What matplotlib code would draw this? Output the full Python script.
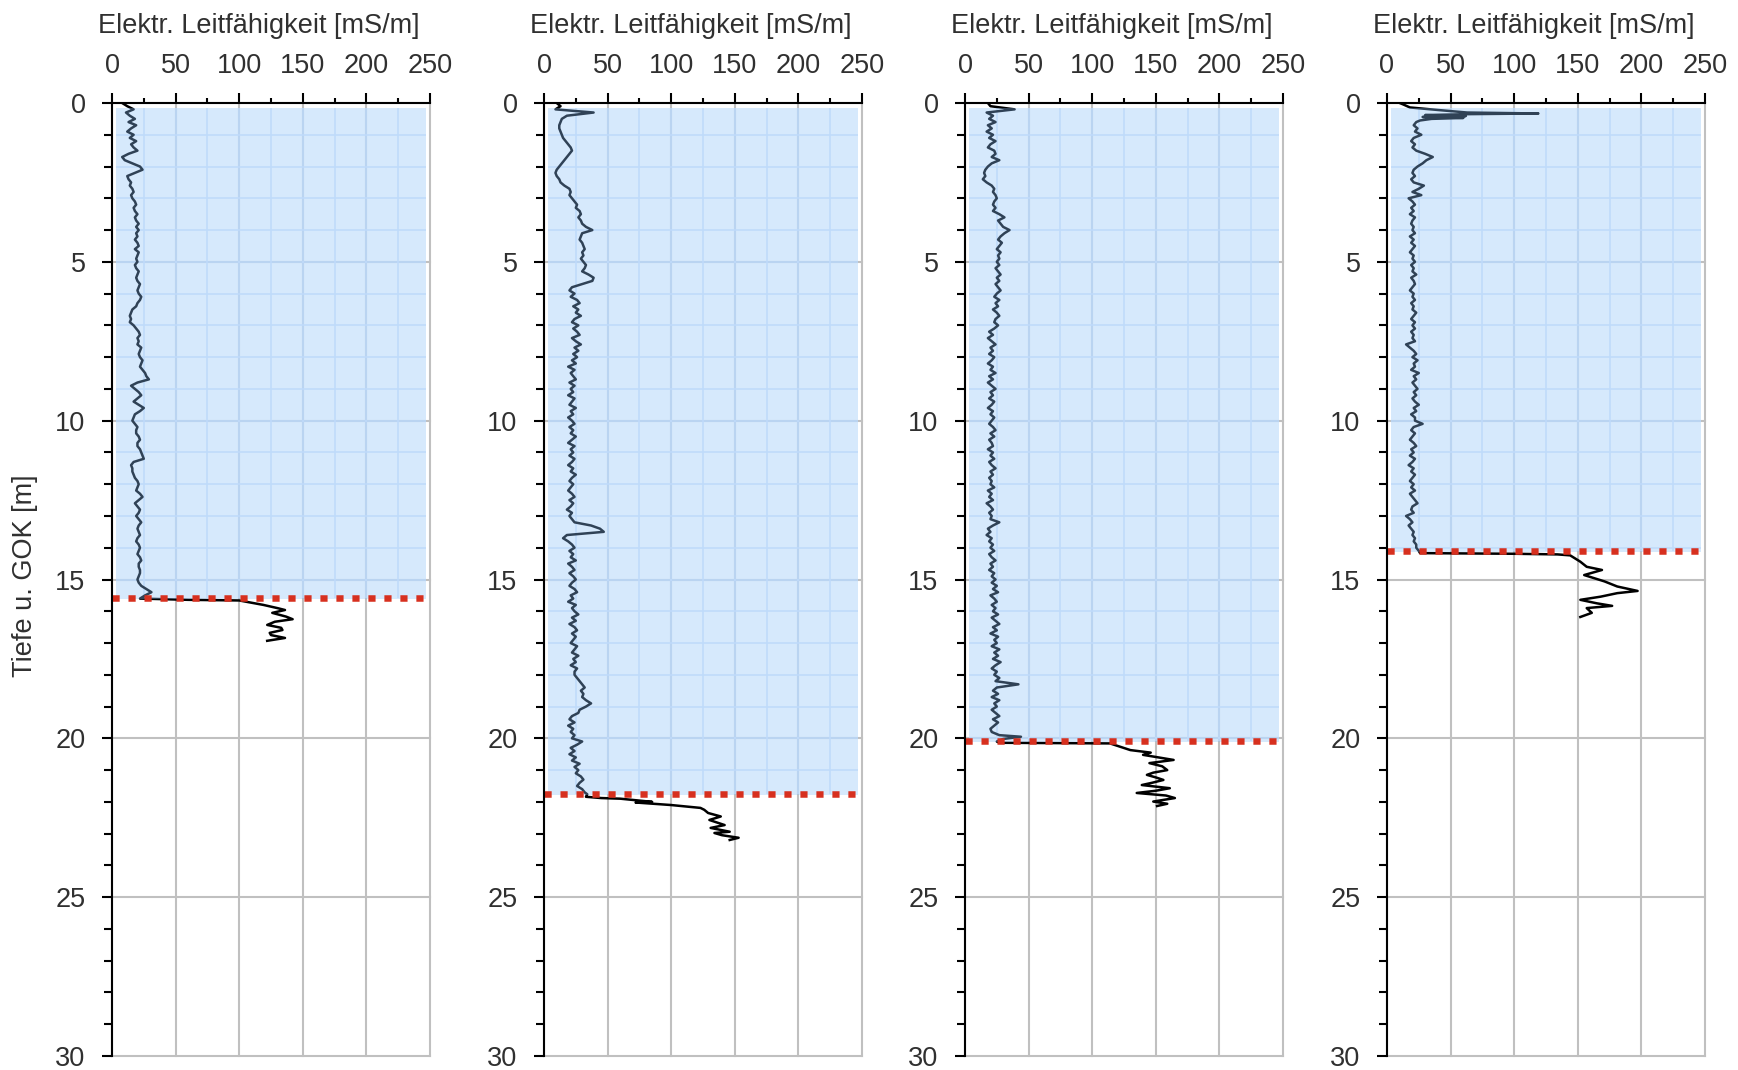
import numpy as np
import matplotlib
matplotlib.use("Agg")
import matplotlib.pyplot as plt
from matplotlib.ticker import MultipleLocator

plt.rcParams['font.family'] = ['Liberation Sans', 'DejaVu Sans']

# ---------------- data ----------------
X_LABEL = "Elektr. Leitfähigkeit [mS/m]"
Y_LABEL = "Tiefe u. GOK [m]"
X_TICKS = [0, 50, 100, 150, 200, 250]
Y_TICKS = [0, 5, 10, 15, 20, 25, 30]

# depth (m) of the water table (red dotted line, lower limit of blue zone)
WATER_LEVEL = [15.57, 21.76, 20.08, 14.10]

STEP = 0.1  # sampling step of the regularly sampled log parts (m)

# --- Profile 1 ---
P1_HEAD_DEPTH = []
P1_HEAD_VALUE = []
P1_BODY_START = 0.0
P1_BODY = [
    8, 12, 17, 11, 14, 18, 13, 19, 15, 12,
    17, 14, 19, 15, 17, 20, 13, 8, 10, 16,
    22, 24, 18, 12, 13, 15, 14, 16, 17, 15,
    16, 18, 19, 17, 18, 20, 18, 19, 21, 19,
    21, 19, 20, 18, 20, 21, 18, 21, 20, 19,
    20, 18, 19, 21, 20, 19, 20, 22, 21, 20,
    21, 23, 22, 20, 19, 16, 15, 14, 15, 14,
    17, 19, 21, 22, 20, 21, 20, 23, 22, 21,
    22, 24, 23, 22, 24, 26, 27, 29, 20, 15,
    18, 21, 23, 20, 17, 21, 25, 22, 18, 17,
    16, 18, 20, 19, 19, 21, 22, 20, 20, 22,
    23, 24, 25, 17, 15, 16, 16, 17, 18, 20,
    21, 20, 19, 22, 24, 21, 18, 20, 22, 21,
    19, 21, 23, 21, 20, 21, 22, 20, 19, 21,
    22, 21, 20, 22, 23, 21, 21, 22, 22, 21,
    20, 21, 23, 27, 31, 26, 22,
]
P1_TAIL_DEPTH = [15.64, 15.66, 15.8, 15.9, 15.96, 16.05, 16.17, 16.25, 16.33,
                 16.43, 16.52, 16.59, 16.68, 16.75, 16.84, 16.93]
P1_TAIL_VALUE = [60, 100, 119, 130, 136, 126, 137, 142, 128,
                 122, 133, 134, 124, 125, 136, 122]

# --- Profile 2 ---
P2_HEAD_DEPTH = []
P2_HEAD_VALUE = []
P2_BODY_START = 0.0
P2_BODY = [
    10, 13, 9, 39, 18, 14, 13, 12, 12, 13,
    14, 15, 17, 19, 21, 22, 20, 18, 16, 14,
    12, 10, 9, 10, 12, 13, 16, 20, 21, 20,
    22, 24, 26, 25, 28, 29, 27, 29, 30, 33,
    38, 30, 29, 28, 30, 31, 32, 30, 31, 29,
    31, 33, 32, 30, 35, 39, 38, 30, 22, 20,
    24, 21, 26, 28, 23, 27, 25, 29, 24, 22,
    27, 23, 26, 28, 22, 25, 29, 24, 27, 23,
    26, 22, 25, 19, 24, 21, 23, 25, 20, 24,
    21, 23, 19, 24, 22, 20, 25, 21, 23, 19,
    22, 24, 20, 23, 21, 25, 22, 19, 24, 21,
    23, 20, 24, 22, 19, 23, 21, 25, 22, 20,
    23, 21, 19, 22, 24, 20, 23, 21, 18, 22,
    20, 22, 24, 37, 44, 47, 18, 15, 19, 22,
    24, 20, 23, 21, 25, 19, 22, 24, 20, 23,
    25, 22, 20, 24, 26, 21, 23, 19, 25, 22,
    24, 27, 22, 25, 20, 24, 26, 22, 25, 23,
    21, 26, 24, 22, 27, 23, 25, 21, 26, 24,
    24, 26, 28, 30, 32, 29, 31, 30, 33, 37,
    33, 28, 27, 22, 20, 24, 19, 23, 21, 24,
    22, 30, 26, 21, 24, 20, 25, 22, 28, 24,
    27, 25, 29, 31, 28, 26, 30, 32,
]
P2_TAIL_DEPTH = [21.76, 21.84, 21.88, 21.9, 22.0, 22.02, 22.1, 22.19, 22.25, 22.35,
                 22.46, 22.57, 22.65, 22.73, 22.82, 22.94, 22.98, 23.05, 23.13, 23.2]
P2_TAIL_VALUE = [34, 33, 45, 60, 85, 72, 100, 123, 126, 129,
                 139, 130, 136, 142, 131, 146, 134, 140, 153, 146]

# --- Profile 3 ---
P3_HEAD_DEPTH = []
P3_HEAD_VALUE = []
P3_BODY_START = 0.0
P3_BODY = [
    18, 20, 39, 17, 22, 19, 24, 18, 21, 17,
    22, 19, 24, 20, 18, 23, 24, 21, 27, 21,
    18, 16, 15, 16, 14, 17, 21, 23, 22, 24,
    25, 23, 22, 24, 22, 27, 31, 26, 28, 30,
    35, 31, 28, 26, 29, 27, 25, 28, 26, 27,
    25, 27, 24, 26, 28, 25, 27, 24, 26, 28,
    25, 23, 27, 24, 26, 22, 25, 27, 24, 23,
    26, 23, 19, 22, 18, 21, 24, 20, 22, 19,
    23, 21, 18, 22, 20, 24, 19, 22, 18, 21,
    24, 20, 22, 19, 23, 21, 18, 22, 20, 23,
    21, 19, 22, 24, 20, 23, 19, 21, 22, 18,
    22, 20, 23, 19, 21, 24, 20, 22, 19, 21,
    20, 23, 18, 21, 19, 22, 17, 20, 22, 19,
    21, 20, 27, 22, 18, 20, 17, 21, 19, 22,
    20, 23, 19, 21, 24, 20, 22, 19, 23, 21,
    24, 21, 25, 22, 26, 20, 23, 25, 21, 24,
    22, 26, 21, 24, 27, 22, 25, 20, 26, 23,
    25, 21, 27, 23, 26, 22, 28, 24, 21, 25,
    23, 27, 24, 42, 25, 22, 26, 21, 27, 23,
    25, 21, 24, 27, 22, 26, 23, 20, 21, 27,
]
P3_TAIL_DEPTH = [19.95, 20.02, 20.1, 20.14, 20.16, 20.37, 20.45, 20.52, 20.6, 20.68,
                 20.78, 20.88, 21.0, 21.08, 21.15, 21.23, 21.31, 21.4, 21.47, 21.57,
                 21.65, 21.72, 21.8, 21.88, 21.99, 22.06, 22.13]
P3_TAIL_VALUE = [44, 30, 25, 27, 114, 130, 146, 140, 152, 164,
                 145, 155, 159, 148, 143, 150, 156, 147, 139, 161,
                 150, 135, 158, 165, 148, 159, 151]

# --- Profile 4 ---
P4_HEAD_DEPTH = [0.0, 0.05, 0.14, 0.22, 0.3, 0.33, 0.35, 0.38, 0.41, 0.44, 0.47, 0.5, 0.55, 0.6]
P4_HEAD_VALUE = [10, 13, 18, 40, 63, 119, 66, 30, 62, 28, 60, 35, 26, 23]
P4_BODY_START = 0.7
P4_BODY = [
    21, 24, 22,
    27, 21, 19, 22, 20, 23, 30, 36, 31, 28,
    24, 21, 20, 22, 19, 21, 29, 25, 20, 27,
    17, 20, 22, 19, 21, 18, 22, 20, 19, 21,
    20, 22, 18, 21, 19, 22, 20, 18, 21, 20,
    22, 19, 21, 20, 23, 19, 21, 22, 20, 18,
    21, 20, 22, 19, 21, 20, 23, 21, 19, 22,
    20, 22, 19, 21, 20, 22, 15, 18, 21, 23,
    20, 24, 21, 22, 19, 25, 21, 23, 20, 22,
    24, 21, 23, 20, 22, 25, 21, 23, 19, 22,
    22, 28, 21, 19, 22, 20, 18, 21, 23, 19,
    21, 18, 22, 20, 17, 21, 19, 22, 20, 18,
    21, 19, 22, 18, 20, 22, 24, 20, 19, 21,
    15, 18, 20, 17, 19, 21, 20, 22, 21, 23,
    23, 25,
]
P4_TAIL_DEPTH = [14.17, 14.19, 14.21, 14.24, 14.44, 14.6, 14.7, 14.86, 15.06, 15.22,
                 15.36, 15.43, 15.54, 15.64, 15.75, 15.83, 15.9, 16.05, 16.18]
P4_TAIL_VALUE = [26, 100, 134, 144, 152, 157, 169, 155, 171, 181,
                 197, 181, 168, 152, 165, 177, 157, 161, 152]

PROFILES = [
    (P1_HEAD_DEPTH, P1_HEAD_VALUE, P1_BODY_START, P1_BODY, P1_TAIL_DEPTH, P1_TAIL_VALUE),
    (P2_HEAD_DEPTH, P2_HEAD_VALUE, P2_BODY_START, P2_BODY, P2_TAIL_DEPTH, P2_TAIL_VALUE),
    (P3_HEAD_DEPTH, P3_HEAD_VALUE, P3_BODY_START, P3_BODY, P3_TAIL_DEPTH, P3_TAIL_VALUE),
    (P4_HEAD_DEPTH, P4_HEAD_VALUE, P4_BODY_START, P4_BODY, P4_TAIL_DEPTH, P4_TAIL_VALUE),
]

# ---------------- styling / layout ----------------
W, H = 1738, 1070
AX_LEFT_PX = [112, 544, 965, 1387]
AX_W_PX, AX_BOTTOM_PX, AX_H_PX = 318, 14, 953
FS = 19.5
TXT = '#303030'
GRID = '#c0c0c0'
FILL = (138 / 255, 192 / 255, 249 / 255)
MINOR_BLUE = '#dbe9fc'
RED = '#d7301f'

fig = plt.figure(figsize=(W / 100, H / 100), dpi=100)

for i, (hd, hv, b0, body, td, tv) in enumerate(PROFILES):
    ax = fig.add_axes([AX_LEFT_PX[i] / W, AX_BOTTOM_PX / H, AX_W_PX / W, AX_H_PX / H])
    depth = list(hd) + list(np.round(b0 + STEP * np.arange(len(body)), 3)) + list(td)
    value = list(hv) + list(body) + list(tv)
    wl = WATER_LEVEL[i]

    ax.set_xlim(0, 250)
    ax.set_ylim(30, 0)
    ax.xaxis.tick_top()
    ax.xaxis.set_label_position('top')
    ax.set_xticks(X_TICKS)
    ax.set_yticks(Y_TICKS)
    ax.xaxis.set_minor_locator(MultipleLocator(25))
    ax.yaxis.set_minor_locator(MultipleLocator(1))
    ax.tick_params(axis='x', which='major', length=7.2, width=1.5, pad=10,
                   labelsize=FS, labelcolor=TXT)
    ax.tick_params(axis='x', which='minor', length=3.8, width=1.5)
    ax.tick_params(axis='y', which='major', length=7.5, width=1.5, pad=11.5,
                   labelsize=FS, labelcolor=TXT)
    ax.tick_params(axis='y', which='minor', length=6.0, width=1.5)
    for s in ['right', 'bottom']:
        ax.spines[s].set_visible(False)
    for s in ['left', 'top']:
        ax.spines[s].set_linewidth(1.5)
        ax.spines[s].set_zorder(6)

    ax.grid(True, which='major', color=GRID, lw=1.5)
    ax.set_axisbelow(True)
    for gl in ax.get_xgridlines() + ax.get_ygridlines():
        gl.set_clip_on(False)

    # fine light-blue grid inside the blue zone
    fx0, fx1, fy0 = 3.5, 247, 0.15
    ax.vlines(np.arange(25, 250, 25), fy0, wl, color=MINOR_BLUE, lw=1.1, zorder=1)
    ax.hlines(np.arange(1, int(wl) + 1), fx0, fx1, color=MINOR_BLUE, lw=1.1, zorder=1)

    ax.plot(value, depth, color='black', lw=1.8, zorder=2, solid_joinstyle='round')

    ax.fill_between([fx0, fx1], fy0, wl + 0.03, color=FILL, alpha=0.35, lw=0, zorder=3)

    ax.axhline(wl, color=RED, lw=4.7, linestyle=(0, (1.1, 1.35)), zorder=5)

    ax.set_xlabel(X_LABEL, fontsize=FS, color=TXT)
    ax.xaxis.set_label_coords(0.462, 1.0735)
    ax.xaxis.label.set_va('baseline')

    if i == 0:
        ax.set_ylabel(Y_LABEL, fontsize=FS, color=TXT)
        ax.yaxis.set_label_coords(-0.274, 0.504)
        ax.yaxis.label.set_va('center')

fig.savefig('out.png', dpi=100)
